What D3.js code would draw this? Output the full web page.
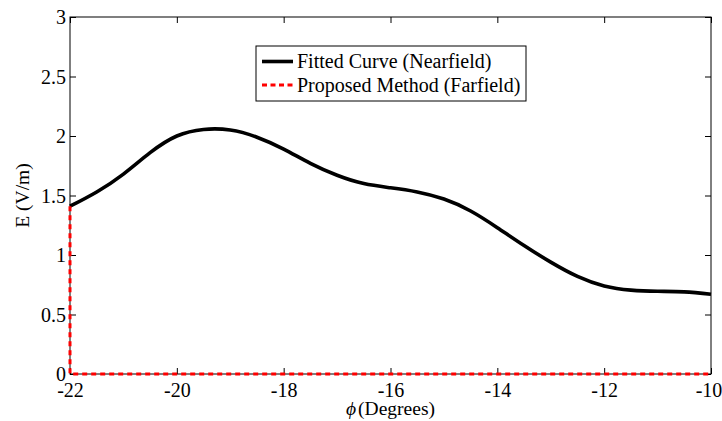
<!DOCTYPE html>
<html>
<head>
<meta charset="utf-8">
<script src="https://cdn.jsdelivr.net/npm/d3@7"></script>
<style>
  html, body { margin: 0; padding: 0; background: #fff; }
  svg { display: block; }
  svg text { font-family: "Liberation Serif", "Times New Roman", Times, serif; fill: #000; }
</style>
</head>
<body>
<svg id="chart" width="722" height="421"></svg>
<script>
// Electric field magnitude versus azimuth angle
const phiNear = [-22, -21.5, -21, -20.5, -20, -19.5, -19, -18.5, -18, -17.5, -17, -16.5,
                 -16, -15.5, -15, -14.5, -14, -13.5, -13, -12.5, -12, -11.5, -11, -10.5, -10];
const eNear   = [1.41, 1.53, 1.68, 1.86, 2.00, 2.055, 2.05, 1.99, 1.89, 1.77, 1.67, 1.60,
                 1.565, 1.53, 1.47, 1.37, 1.23, 1.08, 0.94, 0.82, 0.74, 0.705, 0.695, 0.69, 0.67];

const phiFar = [-22, -22, -10];
const eFar   = [1.41, 0, 0];

const xTicks = [-22, -20, -18, -16, -14, -12, -10];
const yTicks = [0, 0.5, 1, 1.5, 2, 2.5, 3];

const seriesNames = ["Fitted Curve (Nearfield)", "Proposed Method (Farfield)"];

const serif = "'Liberation Serif', 'Times New Roman', Times, serif";
const svg = d3.select("#chart");
const plotL = 70, plotR = 711, plotT = 17, plotB = 374;

const x = d3.scaleLinear().domain([-22, -10]).range([plotL, plotR]);
const y = d3.scaleLinear().domain([0, 3]).range([plotB, plotT]);

const tickLen = 6;

// plot box
svg.append("rect")
  .attr("x", plotL).attr("y", plotT)
  .attr("width", plotR - plotL).attr("height", plotB - plotT)
  .attr("fill", "#fff").attr("stroke", "#000").attr("stroke-width", 1);

// bottom axis (inward ticks) and labels
const xAxisB = d3.axisBottom(x).tickValues(xTicks).tickSizeInner(-tickLen).tickSizeOuter(0)
  .tickFormat(d => String(d));
const gxb = svg.append("g").attr("transform", `translate(0,${plotB})`).call(xAxisB)
  .attr("font-family", serif).attr("font-size", 20);
gxb.select(".domain").remove();
gxb.selectAll("text").attr("dy", null).attr("y", 23).attr("fill", "#000")
  .attr("x", d => d === -10 ? -2.5 : 0);

// top axis ticks
const gxt = svg.append("g").attr("transform", `translate(0,${plotT})`)
  .call(d3.axisTop(x).tickValues(xTicks).tickSizeInner(-tickLen).tickSizeOuter(0).tickFormat(""));
gxt.select(".domain").remove();

// left axis
const yAxisL = d3.axisLeft(y).tickValues(yTicks).tickSizeInner(-tickLen).tickSizeOuter(0)
  .tickFormat(d => String(d));
const gyl = svg.append("g").attr("transform", `translate(${plotL},0)`).call(yAxisL)
  .attr("font-family", serif).attr("font-size", 20);
gyl.select(".domain").remove();
gyl.selectAll("text").attr("x", -4).attr("dy", "0.33em").attr("fill", "#000");

// right axis ticks
const gyr = svg.append("g").attr("transform", `translate(${plotR},0)`)
  .call(d3.axisRight(y).tickValues(yTicks).tickSizeInner(-tickLen).tickSizeOuter(0).tickFormat(""));
gyr.select(".domain").remove();

svg.selectAll(".tick line").attr("stroke", "#000").attr("stroke-width", 1);

// curves
svg.append("path")
  .datum(d3.zip(phiNear, eNear))
  .attr("d", d3.line().x(d => x(d[0])).y(d => y(d[1])).curve(d3.curveNatural))
  .attr("fill", "none").attr("stroke", "#000").attr("stroke-width", 3.6)
  .attr("stroke-linejoin", "round");

svg.append("path")
  .datum(d3.zip(phiFar, eFar))
  .attr("d", d3.line().x(d => x(d[0])).y(d => y(d[1])).curve(d3.curveLinear))
  .attr("fill", "none").attr("stroke", "#ff0000").attr("stroke-width", 3)
  .attr("stroke-dasharray", "5,4");

// axis labels
const xl = svg.append("text").attr("x", 390.5).attr("y", 415)
  .attr("text-anchor", "middle").attr("font-size", 19.5).attr("font-family", serif);
xl.append("tspan").attr("font-style", "italic").text("ϕ");
xl.append("tspan").attr("dx", 2).text("(Degrees)");

svg.append("text")
  .attr("transform", "translate(29,195.5) rotate(-90)")
  .attr("text-anchor", "middle").attr("font-size", 19.5).attr("font-family", serif)
  .text("E (V/m)");

// legend, centred above the plot
const lg = svg.append("g").attr("font-family", serif);
lg.append("rect").attr("x", 256).attr("y", 46).attr("width", 270).attr("height", 55)
  .attr("fill", "#fff").attr("stroke", "#000").attr("stroke-width", 1);
const rows = [
  { name: seriesNames[0], color: "#000", dash: null, w: 3.6, yy: 61.5 },
  { name: seriesNames[1], color: "#ff0000", dash: "5,3.5", w: 3, yy: 85 }
];
rows.forEach(r => {
  lg.append("line").attr("x1", 262).attr("x2", 293).attr("y1", r.yy).attr("y2", r.yy)
    .attr("stroke", r.color).attr("stroke-width", r.w)
    .attr("stroke-dasharray", r.dash);
  lg.append("text").attr("x", 297).attr("y", r.yy).attr("dy", "0.33em")
    .attr("font-size", 20).text(r.name);
});
</script>
</body>
</html>
